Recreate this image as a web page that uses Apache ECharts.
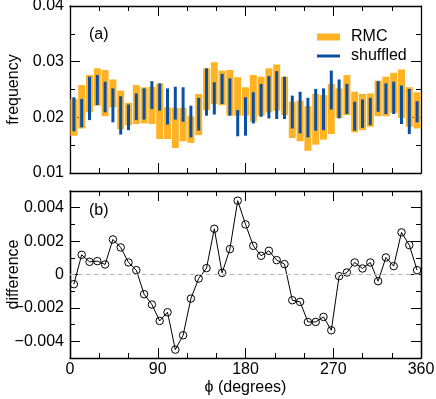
<!DOCTYPE html>
<html>
<head>
<meta charset="utf-8">
<script src="https://cdn.jsdelivr.net/npm/echarts@6/dist/echarts.min.js"></script>
<style>
html,body{margin:0;padding:0;background:#fff;}
#chart{width:436px;height:399px;}
</style>
</head>
<body>
<div id="chart"></div>
<script>
// bin centres (degrees)
const phi = [4,12,20,28,36,44,52,60,68,76,84,92,100,108,116,124,132,140,148,156,164,172,180,188,196,204,212,220,228,236,244,252,260,268,276,284,292,300,308,316,324,332,340,348,356];
// RMC range (low / high)
const rmcLow  = [0.0167,0.0180,0.0209,0.0221,0.0202,0.0218,0.0179,0.0186,0.0188,0.0189,0.0188,0.0161,0.0161,0.0145,0.0157,0.0154,0.0168,0.0213,0.0224,0.0222,0.0203,0.0203,0.0203,0.0192,0.0203,0.0209,0.0212,0.0204,0.0163,0.0157,0.0140,0.0151,0.0160,0.0170,0.0199,0.0204,0.0173,0.0177,0.0183,0.0202,0.0202,0.0208,0.0199,0.0183,0.0180];
const rmcHigh = [0.0233,0.0258,0.0276,0.0288,0.0285,0.0268,0.0248,0.0226,0.0258,0.0254,0.0255,0.0261,0.0218,0.0217,0.0217,0.0202,0.0242,0.0288,0.0299,0.0284,0.0285,0.0272,0.0254,0.0276,0.0273,0.0288,0.0295,0.0273,0.0228,0.0230,0.0220,0.0242,0.0240,0.0260,0.0252,0.0276,0.0246,0.0242,0.0243,0.0266,0.0273,0.0280,0.0286,0.0254,0.0245];
// shuffled range (low / high)
const shufLow  = [0.0175,0.0182,0.0195,0.0222,0.0209,0.0191,0.0169,0.0177,0.0195,0.0196,0.0215,0.0212,0.0187,0.0196,0.0192,0.0164,0.0176,0.0203,0.0205,0.0224,0.0203,0.0166,0.0167,0.0189,0.0201,0.0198,0.0197,0.0197,0.0180,0.0171,0.0164,0.0176,0.0177,0.0214,0.0198,0.0206,0.0176,0.0181,0.0186,0.0210,0.0206,0.0206,0.0188,0.0170,0.0191];
const shufHigh = [0.0236,0.0233,0.0273,0.0276,0.0264,0.0252,0.0238,0.0223,0.0243,0.0252,0.0265,0.0261,0.0252,0.0255,0.0254,0.0221,0.0235,0.0288,0.0263,0.0278,0.0270,0.0213,0.0236,0.0245,0.0260,0.0274,0.0283,0.0273,0.0239,0.0246,0.0235,0.0251,0.0252,0.0284,0.0268,0.0260,0.0228,0.0232,0.0235,0.0265,0.0261,0.0264,0.0257,0.0251,0.0229];
// difference panel
const diff = [-0.00058,0.00118,0.00076,0.00080,0.00060,0.00210,0.00162,0.00072,0.00026,-0.00118,-0.00180,-0.00278,-0.00226,-0.00450,-0.00364,-0.00144,-0.00024,0.00038,0.00274,0.00010,0.00152,0.00442,0.00300,0.00172,0.00112,0.00142,0.00086,0.00062,-0.00154,-0.00164,-0.00284,-0.00284,-0.00254,-0.00334,-0.00010,0.00012,0.00072,0.00036,0.00072,-0.00040,0.00102,0.00050,0.00252,0.00176,0.00026];
// tick labels
const xTicks = [0,90,180,270,360];
const freqTicks = [0.01,0.02,0.03,0.04];
const diffTicks = [-0.004,-0.002,0,0.002,0.004];
const diffMinor = [-0.003,-0.001,0.001,0.003];

const ORANGE = '#FFB224';
const BLUE = '#0B4FA3';
const FONT = 'Liberation Sans, Arial, Helvetica, sans-serif';

function rangeItem(w){
  return function(params, api){
    const x = api.value(0), lo = api.value(1), hi = api.value(2);
    const a = api.coord([x, hi]), b = api.coord([x, lo]);
    return {type:'rect', shape:{x:a[0]-w/2, y:a[1], width:w, height:b[1]-a[1]}, style:{fill: api.visual('color')}};
  };
}

const axLine = {show:true, onZero:false, lineStyle:{color:'#000', width:1.3}};
function xAx(grid, pos, labels){
  return {type:'value', gridIndex:grid, position:pos, min:0, max:360, interval:90,
    axisLine:axLine, splitLine:{show:false},
    axisTick:{show:true, inside:true, length:10, lineStyle:{color:'#000'}},
    minorTick:{show:true, splitNumber:3, length:5, lineStyle:{color:'#000'}},
    axisLabel:{show:labels, color:'#000', fontSize:16, fontFamily:FONT, margin:4,
      formatter: v => { const t = xTicks.find(k => Math.abs(k - v) < 1e-9); return t === undefined ? '' : String(t); }},
    name: labels ? 'ϕ (degrees)' : '', nameLocation:'middle', nameGap:22, nameMoveOverlap:false,
    nameTextStyle:{color:'#000', fontSize:16, fontFamily:FONT}};
}
function fy(pos, labels){
  return {type:'value', gridIndex:0, position:pos, min:0.01, max:0.04, interval:0.01,
    axisLine:axLine, splitLine:{show:false},
    axisTick:{show:true, inside:true, length:10, lineStyle:{color:'#000'}},
    minorTick:{show:true, splitNumber:2, length:5, lineStyle:{color:'#000'}},
    axisLabel:{show:labels, color:'#000', fontSize:16, fontFamily:FONT, margin:6,
      formatter: v => { const t = freqTicks.find(k => Math.abs(k - v) < 1e-9); return t === undefined ? '' : t.toFixed(2); }},
    name: labels ? 'frequency' : '', nameLocation:'middle', nameGap:48, nameMoveOverlap:false,
    nameTextStyle:{color:'#000', fontSize:16, fontFamily:FONT}};
}
function dy(pos, labels, values, len){
  return {type:'value', gridIndex:1, position:pos, min:-0.005, max:0.005,
    axisLine:axLine, splitLine:{show:false},
    axisTick:{show:true, inside:true, length:len, customValues:values, lineStyle:{color:'#000'}},
    axisLabel:{show:labels, customValues:values, color:'#000', fontSize:16, fontFamily:FONT, margin:6,
      formatter: v => Math.abs(v) < 1e-12 ? '0' : (v < 0 ? '\u2212' + Math.abs(v).toFixed(3) : v.toFixed(3))},
    name: labels ? 'difference' : '', nameLocation:'middle', nameGap:48, nameMoveOverlap:false,
    nameTextStyle:{color:'#000', fontSize:16, fontFamily:FONT}};
}

const legText = {fontSize:16, color:'#000', fontFamily:FONT, rich:{g:{width:6}, n:{fontSize:16, color:'#000', fontFamily:FONT}}};

const chart = echarts.init(document.getElementById('chart'), null, {renderer:'canvas'});
chart.setOption({
  animation:false,
  backgroundColor:'#fff',
  textStyle:{fontFamily:FONT},
  title:[
    {text:'(a)', left:84, top:22, textStyle:{fontSize:16, fontWeight:'normal', color:'#000', fontFamily:FONT}},
    {text:'(b)', left:84, top:198, textStyle:{fontSize:16, fontWeight:'normal', color:'#000', fontFamily:FONT}}
  ],
  legend:[
    {data:[{name:'RMC', icon:'rect'}], left:312, top:24, itemWidth:23, itemHeight:7,
      formatter: n => '{g|}{n|' + n + '}', textStyle:legText},
    {data:[{name:'shuffled', icon:'rect'}], left:312, top:43, itemWidth:23, itemHeight:3,
      formatter: n => '{g|}{n|' + n + '}', textStyle:legText}
  ],
  grid:[
    {left:70, right:15, top:6, height:167, containLabel:false, outerBoundsMode:'none'},
    {left:70, right:15, top:191, height:167, containLabel:false, outerBoundsMode:'none'}
  ],
  xAxis:[xAx(0,'bottom',false), xAx(0,'top',false), xAx(1,'bottom',true), xAx(1,'top',false)],
  yAxis:[fy('left',true), fy('right',false),
    dy('left',true,diffTicks,10), dy('left',false,diffMinor,5),
    dy('right',false,diffTicks,10), dy('right',false,diffMinor,5)],
  series:[
    {name:'RMC', type:'custom', xAxisIndex:0, yAxisIndex:0, itemStyle:{color:ORANGE},
      renderItem:rangeItem(7), encode:{x:0, y:[1,2]},
      data: phi.map((p,i) => [p, rmcLow[i], rmcHigh[i]]), z:2},
    {name:'shuffled', type:'custom', xAxisIndex:0, yAxisIndex:0, itemStyle:{color:BLUE},
      renderItem:rangeItem(3), encode:{x:0, y:[1,2]},
      data: phi.map((p,i) => [p, shufLow[i], shufHigh[i]]), z:3},
    {name:'difference', type:'line', xAxisIndex:2, yAxisIndex:2,
      data: phi.map((p,i) => [p, diff[i]]),
      symbol:'circle', symbolSize:7.5,
      lineStyle:{color:'#000', width:1},
      itemStyle:{color:'rgba(0,0,0,0)', borderColor:'#000', borderWidth:1},
      markLine:{silent:true, symbol:'none', label:{show:false},
        lineStyle:{color:'#bbb', type:[5,3], width:1}, data:[{yAxis:0}]},
      z:3}
  ]
});
</script>
</body>
</html>
